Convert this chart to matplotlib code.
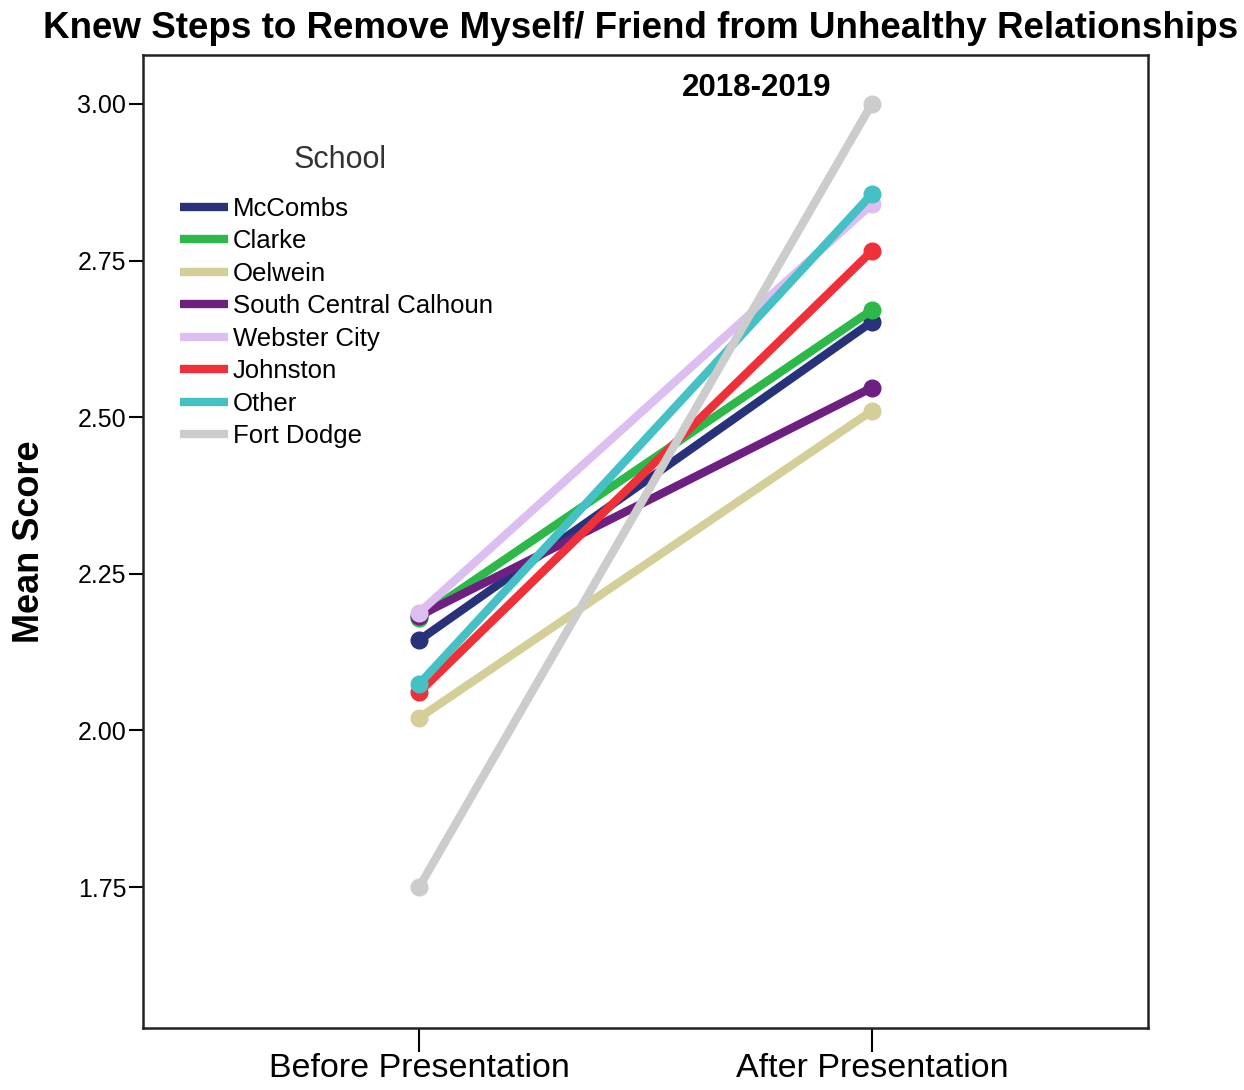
import numpy as np
import matplotlib.pyplot as plt

plt.rcParams['font.family'] = ['Liberation Sans', 'DejaVu Sans']

# data
phases = ['Before Presentation', 'After Presentation']
schools = ['McCombs', 'Clarke', 'Oelwein', 'South Central Calhoun',
           'Webster City', 'Johnston', 'Other', 'Fort Dodge']
before = [2.144, 2.180, 2.020, 2.183, 2.188, 2.061, 2.074, 1.750]
after = [2.652, 2.671, 2.510, 2.547, 2.840, 2.765, 2.856, 3.000]
colors = ['#27327a', '#2db84a', '#d4cf99', '#6e2080',
          '#dcbef0', '#ef3039', '#45c0c4', '#cccccc']
yticks = [1.75, 2.00, 2.25, 2.50, 2.75, 3.00]

fig = plt.figure(figsize=(12.44, 10.9), dpi=100)
ax = fig.add_axes([143/1244, 1-1028/1090, 1005/1244, 973/1090])

x = np.arange(len(phases))
for name, b, a, c in zip(schools, before, after, colors):
    ax.plot(x, [b, a], color=c, lw=6, marker='o', ms=12, label=name,
            solid_capstyle='round')

ax.set_xlim(-0.61, 1.61)
ax.set_ylim(1.525, 3.078)
ax.set_xticks(x)
ax.set_xticklabels(phases, fontsize=24.5)
ax.set_yticks(yticks)
ax.set_yticklabels(['%.2f' % v for v in yticks], fontsize=18)
ax.tick_params(axis='x', length=17, width=1.5, pad=1)
ax.tick_params(axis='y', length=10, width=1.5, pad=2)
for s in ax.spines.values():
    s.set_linewidth(1.8)
    s.set_color('#222222')

ax.set_ylabel('Mean Score', fontsize=26, fontweight='bold', labelpad=22)
fig.text(0.515, 1-28/1090, 'Knew Steps to Remove Myself/ Friend from Unhealthy Relationships',
         ha='center', va='center', fontsize=26.5, fontweight='bold')
fig.text(757/1244, 1-88/1090, '2018-2019', ha='center', va='center',
         fontsize=22.5, fontweight='bold')
fig.text(340/1244, 1-160/1090, 'School', ha='center', va='center',
         fontsize=22, color='#333333')

leg = ax.legend(loc='upper left', bbox_to_anchor=((180-143)/1005, (1028-197)/973),
                frameon=False, fontsize=18.5,
                handlelength=1.85, handletextpad=0.2, labelspacing=0.33,
                borderaxespad=0, borderpad=0)
for h in leg.get_lines():
    h.set_marker('')
    h.set_linewidth(6)
    h.set_solid_capstyle('butt')

fig.savefig('out.png', dpi=100)
